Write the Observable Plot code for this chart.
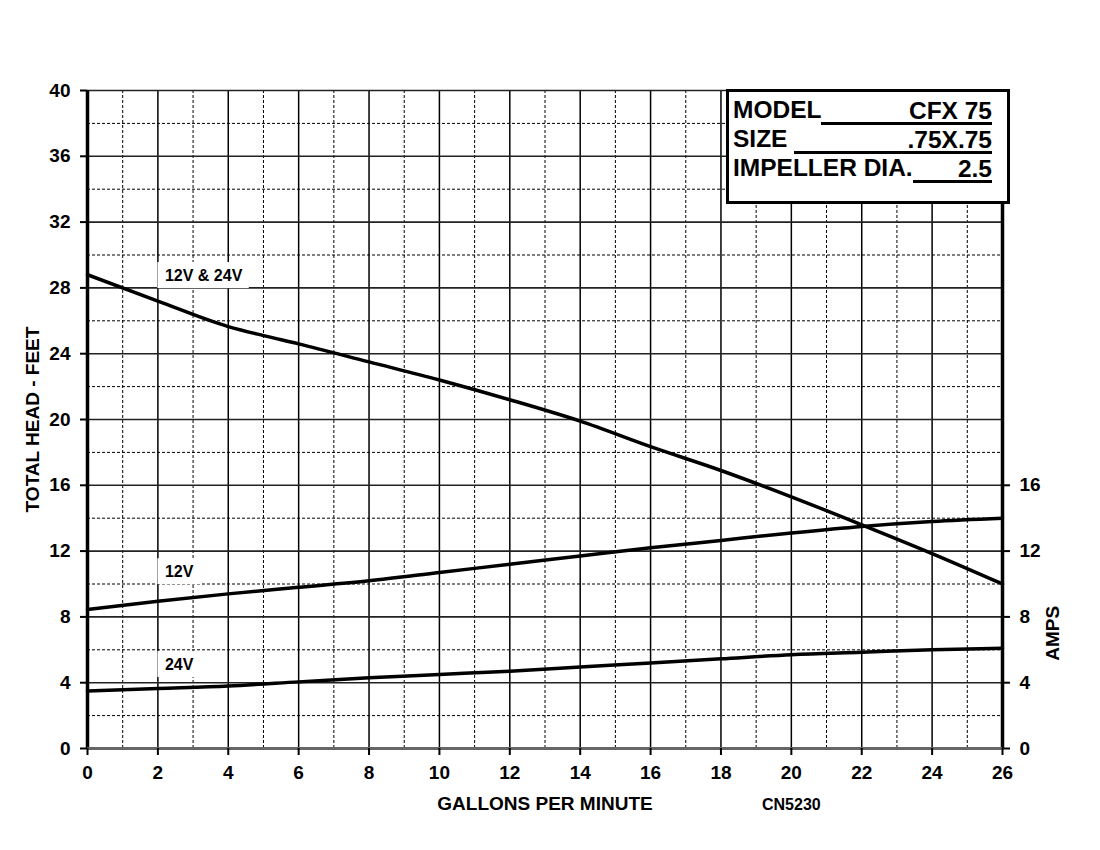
<!DOCTYPE html>
<html>
<head>
<meta charset="utf-8">
<script src="https://cdn.jsdelivr.net/npm/d3@7"></script>
<script src="https://cdn.jsdelivr.net/npm/@observablehq/plot@0.6"></script>
<style>
  html, body { margin: 0; padding: 0; background: #fff; }
  #wrap { position: relative; width: 1100px; height: 850px; font-family: "Liberation Sans", Arial, sans-serif; }
  #box { position: absolute; left: 726px; top: 89px; width: 274px; height: 105px; border: 3px solid #000; background: #fff;
         font-weight: bold; font-size: 24.5px; line-height: 30px; padding: 4px 0 0 4px; box-sizing: content-box; }
  .row { display: flex; align-items: flex-end; width: 259px; height: 29px; }
  .row .k { white-space: pre; }
  .row .v { flex: 1; text-align: right; border-bottom: 3px solid #000; line-height: 22px; white-space: pre; }
</style>
</head>
<body>
<div id="wrap"></div>
<script>
// ---- data ----
const gpm = [0, 2, 4, 5, 6, 8, 10, 12, 14, 16, 18, 20, 22, 24, 26];
const headFeet = [28.8, 27.2, 25.65, 25.1, 24.6, 23.5, 22.4, 21.2, 19.9, 18.35, 16.9, 15.3, 13.6, 11.85, 10.0];
const ampsGpm = [0, 2, 4, 6, 8, 10, 12, 14, 16, 18, 20, 22, 24, 26];
const amps12V = [8.45, 8.95, 9.4, 9.8, 10.2, 10.7, 11.2, 11.7, 12.2, 12.65, 13.1, 13.5, 13.8, 14.0];
const amps24V = [3.5, 3.65, 3.8, 4.05, 4.3, 4.5, 4.7, 4.95, 5.2, 5.45, 5.7, 5.85, 6.0, 6.1];
const xTicks = d3.range(0, 27, 2);
const yTicksLeft = d3.range(0, 41, 4);
const yTicksRight = [0, 4, 8, 12, 16];
const xMinor = d3.range(1, 26, 2);
const yMinor = d3.range(2, 40, 4);
const curveLabels = ["12V & 24V", "12V", "24V"];
const modelInfo = [["MODEL", "CFX 75"], ["SIZE ", ".75X.75"], ["IMPELLER DIA.", "2.5"]];

const headData = gpm.map((x, i) => ({x, y: headFeet[i]}));
const a12 = ampsGpm.map((x, i) => ({x, y: amps12V[i]}));
const a24 = ampsGpm.map((x, i) => ({x, y: amps24V[i]}));
const labelPos = [
  {t: curveLabels[0], x: 2.2, y: 28.75},
  {t: curveLabels[1], x: 2.2, y: 10.75},
  {t: curveLabels[2], x: 2.2, y: 5.1}
];

const tickFont = {fontSize: 19, fontWeight: "bold", fill: "#000"};
const titleFont = {fontSize: 19, fontWeight: "bold", fill: "#000"};
const xMin = 0, xMax = 26, yMin = 0;

// measure text widths for label backgrounds
const measureCtx = document.createElement("canvas").getContext("2d");
measureCtx.font = "bold 16px 'Liberation Sans', Arial, sans-serif";

const labelBg = Plot.text(labelPos, {
  x: "x", y: "y", text: "t",
  render(index, scales, values) {
    const g = d3.create("svg:g");
    for (const i of index) {
      const w = measureCtx.measureText(labelPos[i].t).width;
      g.append("rect")
        .attr("x", values.x[i] - 7)
        .attr("y", values.y[i] - 13)
        .attr("width", w + 14)
        .attr("height", 26)
        .attr("fill", "#fff");
    }
    return g.node();
  }
});

const chart = Plot.plot({
  width: 1100,
  height: 850,
  marginLeft: 87,
  marginRight: 98,
  marginTop: 90,
  marginBottom: 102,
  style: {fontFamily: "Liberation Sans, Arial, sans-serif", background: "#fff", color: "#000", fontWeight: "bold"},
  x: {domain: [xMin, xMax]},
  y: {domain: [yMin, 40]},
  marks: [
    // minor dashed grid
    Plot.ruleX(xMinor, {stroke: "#000", strokeWidth: 1, strokeDasharray: "3,2"}),
    Plot.ruleY(yMinor, {stroke: "#000", strokeWidth: 1, strokeDasharray: "3,2"}),
    // major grid
    Plot.ruleX(xTicks, {stroke: "#000", strokeWidth: 1.5}),
    Plot.ruleY(yTicksLeft, {stroke: "#222", strokeWidth: 1.6}),
    // borders
    Plot.ruleX([xMin, xMax], {stroke: "#000", strokeWidth: 3.5}),
    Plot.ruleY([yMin], {stroke: "#666", strokeWidth: 3}),
    // label backgrounds
    labelBg,
    // curves
    Plot.line(headData, {x: "x", y: "y", stroke: "#000", strokeWidth: 3.5, curve: "monotone-x"}),
    Plot.line(a12, {x: "x", y: "y", stroke: "#000", strokeWidth: 3.5, curve: "monotone-x"}),
    Plot.line(a24, {x: "x", y: "y", stroke: "#000", strokeWidth: 3.5, curve: "monotone-x"}),
    Plot.text(labelPos, {x: "x", y: "y", text: "t", fontSize: 16, fontWeight: "bold", textAnchor: "start", fill: "#000"}),
    // axis tick marks (labels drawn below as text)
    Plot.axisY({ticks: yTicksLeft, anchor: "left", tickSize: 7, tickFormat: () => "", label: null, strokeWidth: 2}),
    Plot.axisY({ticks: yTicksRight, anchor: "right", tickSize: 7, tickFormat: () => "", label: null, strokeWidth: 2}),
    Plot.axisX({ticks: xTicks, anchor: "bottom", tickSize: 7, tickFormat: () => "", label: null, strokeWidth: 2}),
    // tick labels
    Plot.text(yTicksLeft, {x: () => xMin, y: d => d, text: d => String(d), dx: -17, textAnchor: "end", ...tickFont}),
    Plot.text(yTicksRight, {x: () => xMax, y: d => d, text: d => String(d), dx: 17, textAnchor: "start", ...tickFont}),
    Plot.text(xTicks, {x: d => d, y: () => yMin, text: d => String(d), dy: 24, ...tickFont}),
    // axis titles
    Plot.text(["TOTAL HEAD - FEET"], {frameAnchor: "left", textAnchor: "middle", lineAnchor: "middle", rotate: -90, dx: -55, ...titleFont}),
    Plot.text(["AMPS"], {x: () => xMax, y: () => 7, rotate: -90, dx: 50, ...titleFont}),
    Plot.text(["GALLONS PER MINUTE"], {frameAnchor: "bottom", lineAnchor: "middle", dy: 55, ...titleFont}),
    Plot.text(["CN5230"], {x: () => 20, y: () => yMin, dy: 56, fontSize: 16, fontWeight: "bold", fill: "#000"})
  ]
});

const wrap = document.getElementById("wrap");
wrap.appendChild(chart);
const box = document.createElement("div");
box.id = "box";
modelInfo.forEach(([k, v]) => {
  const row = document.createElement("div");
  row.className = "row";
  const ks = document.createElement("span"); ks.className = "k"; ks.textContent = k;
  const vs = document.createElement("span"); vs.className = "v"; vs.textContent = v;
  row.appendChild(ks); row.appendChild(vs);
  box.appendChild(row);
});
wrap.appendChild(box);
</script>
</body>
</html>
